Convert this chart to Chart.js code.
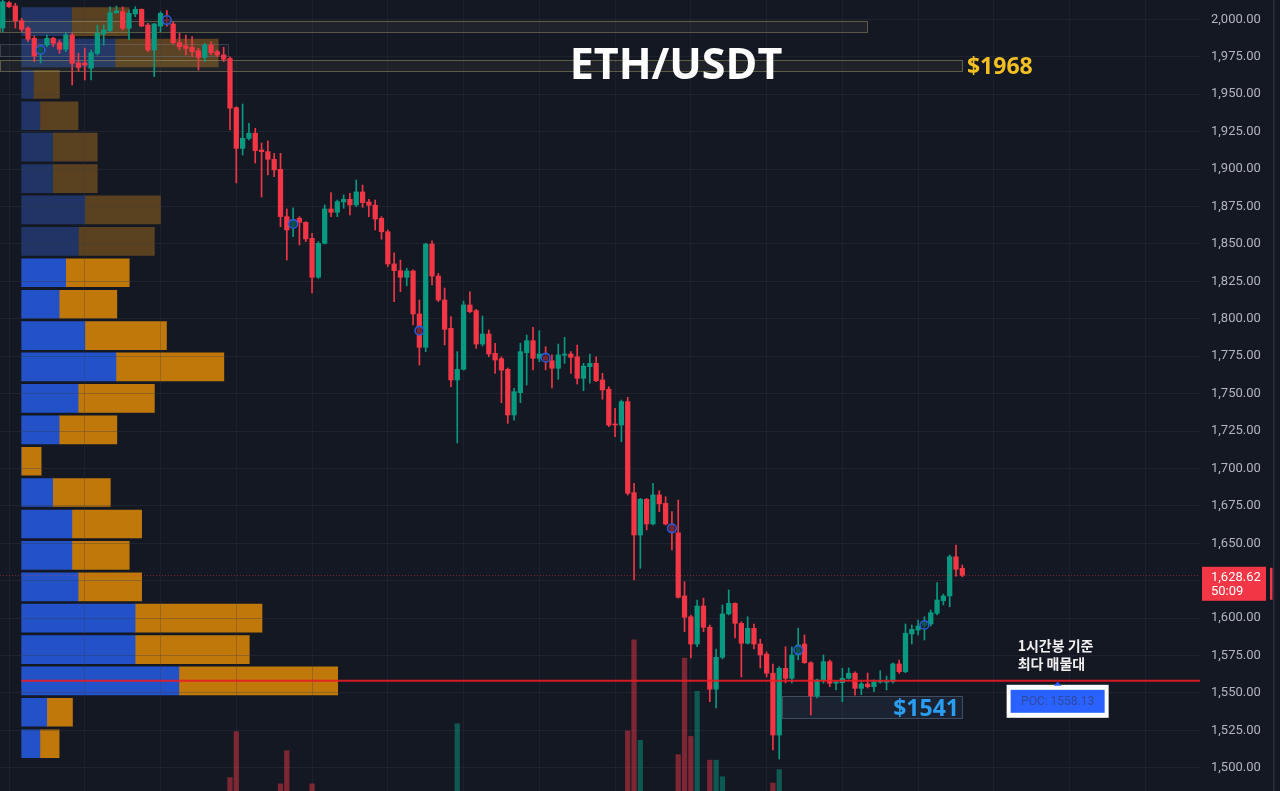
<!DOCTYPE html>
<html>
<head>
<meta charset="utf-8">
<title>ETH/USDT</title>
<script src="https://cdn.jsdelivr.net/npm/chart.js@4.4.0/dist/chart.umd.min.js"></script>
<style>
  html, body { margin: 0; padding: 0; background: #141823; }
  #wrap { position: relative; width: 1280px; height: 791px; overflow: hidden; }
  #wrap canvas { position: absolute; left: 0; top: 0; }
</style>
</head>
<body>
<div id="wrap">
  <canvas id="profileChart" width="1280" height="791"></canvas>
  <canvas id="priceChart" width="1280" height="791"></canvas>
</div>
<script>
// 1h candles, oldest first
const openP = [1994.2,2011.1,2008.9,1999.1,1994.2,1987.3,1977.3,1982.8,1987.3,1984.4,1980.0,1989.5,1971.0,1970.8,1967.3,1977.3,1990.2,1992.4,2004.4,2005.1,
  1994.0,2003.6,2006.7,1996.2,1979.5,1995.5,2000.0,1996.9,1984.4,1982.2,1981.3,1979.0,1974.6,1982.8,1978.4,1976.2,1973.9,1941.0,1913.8,1920.5,
  1923.9,1912.7,1911.6,1906.5,1899.8,1868.2,1861.5,1867.1,1864.4,1853.7,1827.7,1850.4,1873.3,1871.1,1878.0,1879.8,1876.0,1884.7,1878.0,1875.8,
  1867.1,1858.1,1836.6,1832.1,1827.7,1831.9,1803.2,1780.9,1849.9,1828.5,1812.5,1793.6,1759.1,1766.2,1809.2,1805.4,1783.1,1789.8,1776.9,1773.3,
  1766.2,1735.7,1750.6,1777.3,1785.3,1773.6,1775.1,1771.9,1766.9,1775.6,1776.4,1774.6,1760.2,1768.0,1770.2,1759.1,1752.9,1729.7,1729.0,1744.6,
  1683.8,1655.5,1679.4,1662.9,1682.3,1676.7,1662.2,1657.0,1614.8,1600.9,1582.7,1608.1,1593.9,1552.5,1573.8,1602.8,1609.9,1596.5,1583.2,1593.2,
  1582.7,1576.0,1563.2,1521.9,1566.5,1559.8,1575.4,1582.7,1570.2,1548.0,1558.7,1570.9,1556.5,1556.9,1559.8,1563.2,1553.1,1556.0,1554.2,1557.3,
  1557.1,1557.5,1569.4,1564.2,1589.4,1592.0,1594.7,1596.1,1603.2,1611.6,1614.8,1641.0,1633.3];
const highP = [2013.5,2011.8,2010.7,2000.7,1995.1,1988.9,1982.8,1989.5,1988.0,1986.2,1991.1,1990.7,1977.3,1980.8,1979.5,1996.2,1996.2,2008.4,2008.9,2008.4,
  2006.2,2008.4,2007.0,1997.3,1997.3,2005.1,2005.8,1998.4,1990.7,1989.5,1988.4,1980.6,1984.0,1985.0,1979.5,1981.3,1975.0,1941.6,1943.4,1930.5,
  1927.2,1917.4,1918.9,1910.5,1910.5,1873.3,1874.0,1868.2,1864.8,1857.1,1851.5,1876.0,1884.2,1879.3,1882.7,1883.8,1892.7,1889.3,1879.8,1879.3,
  1868.2,1859.3,1844.1,1839.2,1833.7,1832.6,1812.5,1850.4,1852.1,1830.3,1820.5,1801.4,1778.0,1811.8,1818.0,1806.3,1801.8,1792.5,1783.6,1774.6,
  1767.1,1753.5,1783.6,1789.1,1794.3,1792.0,1781.3,1775.8,1783.1,1787.6,1778.0,1782.4,1770.2,1776.4,1774.6,1763.5,1754.6,1740.2,1745.7,1747.5,
  1690.1,1680.0,1680.0,1690.1,1685.1,1681.1,1671.1,1678.9,1624.3,1602.1,1612.1,1613.4,1595.4,1579.4,1608.8,1618.8,1610.3,1597.6,1600.9,1596.1,
  1586.0,1577.4,1569.3,1567.6,1580.9,1580.9,1593.4,1588.7,1570.9,1559.3,1575.4,1572.0,1558.0,1566.5,1566.7,1564.2,1557.3,1563.3,1558.7,1564.9,
  1561.3,1570.2,1572.0,1596.1,1595.4,1598.7,1600.9,1605.4,1623.7,1616.1,1642.2,1648.8,1635.5];
const lowP = [1991.5,2008.0,1994.2,1991.7,1985.0,1971.7,1970.8,1981.7,1981.7,1977.3,1978.4,1956.1,1965.0,1959.5,1959.5,1976.2,1982.8,1991.7,2004.0,1992.9,
  1986.2,2001.7,1995.1,1978.4,1961.7,1991.7,1995.5,1983.5,1979.5,1976.2,1975.0,1966.2,1971.7,1976.2,1975.0,1971.7,1926.1,1890.7,1909.4,1919.4,
  1904.0,1881.3,1896.0,1894.9,1861.5,1839.2,1854.8,1849.3,1851.5,1817.2,1827.0,1849.9,1868.2,1868.2,1873.8,1869.3,1874.8,1874.4,1868.2,1859.3,
  1853.1,1834.8,1811.4,1818.1,1821.9,1795.8,1769.1,1778.0,1822.5,1811.4,1782.5,1754.6,1717.0,1765.7,1803.8,1780.2,1781.8,1774.6,1763.5,1743.9,
  1730.1,1732.3,1743.9,1755.7,1765.8,1771.3,1765.8,1753.7,1759.5,1770.2,1763.5,1756.4,1751.9,1756.9,1757.9,1746.2,1727.9,1721.2,1717.9,1682.2,
  1625.5,1633.3,1658.9,1662.2,1671.1,1662.2,1645.5,1613.4,1590.9,1573.4,1580.9,1590.9,1544.2,1540.0,1572.7,1602.1,1586.7,1560.7,1582.7,1579.4,
  1566.7,1560.7,1511.9,1505.9,1556.7,1556.7,1572.0,1569.8,1535.3,1546.7,1556.5,1554.2,1552.0,1544.2,1559.3,1548.6,1548.8,1553.3,1550.8,1556.5,
  1552.0,1556.5,1563.1,1563.5,1582.7,1588.7,1585.4,1594.7,1602.1,1608.8,1607.6,1628.1,1627.6];
const closeP = [2011.8,2008.4,1999.1,1993.3,1986.7,1975.5,1981.7,1987.3,1984.0,1980.0,1989.5,1970.6,1967.9,1969.5,1977.7,1990.7,1992.9,2004.4,2005.6,1994.0,
  2004.0,2006.7,1995.5,1979.5,1996.9,2004.0,1999.2,1984.4,1981.7,1980.6,1978.4,1974.6,1982.8,1977.7,1976.2,1973.3,1940.6,1913.8,1920.5,1923.9,
  1912.3,1911.6,1906.5,1899.4,1868.2,1859.3,1865.9,1864.4,1853.3,1827.7,1850.4,1873.3,1871.1,1878.2,1879.8,1876.0,1884.7,1877.5,1875.8,1866.6,
  1858.1,1836.6,1832.1,1827.7,1831.9,1803.2,1780.9,1849.9,1828.5,1812.5,1792.9,1759.1,1766.2,1809.2,1804.7,1783.1,1789.8,1776.4,1772.4,1765.7,
  1735.7,1751.3,1778.0,1785.3,1773.6,1776.4,1772.4,1766.9,1775.8,1776.4,1774.2,1760.2,1768.4,1770.2,1758.6,1752.4,1729.0,1729.0,1744.6,1683.4,
  1655.5,1679.4,1662.9,1682.3,1676.3,1662.9,1657.7,1613.9,1600.6,1582.7,1608.1,1593.9,1552.5,1573.8,1602.8,1609.9,1596.5,1583.2,1593.2,1582.7,
  1575.4,1563.2,1521.9,1566.5,1559.8,1575.4,1582.1,1570.2,1548.0,1558.7,1570.9,1556.5,1557.3,1559.8,1563.2,1553.1,1556.0,1554.2,1557.3,1557.5,
  1557.7,1569.4,1564.2,1589.9,1592.5,1594.7,1597.6,1603.6,1612.1,1614.8,1641.0,1632.6,1628.62];

// volume bars that reach into view (candle index, volume)
const volIdx = [36,37,44,45,49,72,99,100,101,107,108,109,110,112,113,114,122,123];
const volVal = [1.7,7.5,0.9,5.1,0.9,8.5,7.6,19.1,6.4,4.6,16.8,6.9,12.6,3.9,3.9,1.8,1.0,2.7];

// indicator dots every 20 bars
const markerIdx = [6,26,46,66,86,106,126,146];
const markerPrice = [1979.5,1999.5,1863.3,1792.0,1774.0,1660.0,1578.7,1595.4];

// volume profile rows (row centre price, up / down volume)
const rowPrice = [1998.5,1977.5,1956.6,1935.6,1914.6,1893.6,1872.7,1851.7,1830.7,1809.7,1788.7,1767.8,
  1746.8,1725.8,1704.8,1683.9,1662.9,1641.9,1620.9,1600.0,1579.0,1558.1,1537.1,1516.1];
const upVol = [16.2,30.2,3.9,6.0,10.1,10.1,20.5,18.4,14.3,12.2,20.5,30.5,18.3,12.2,0,10.1,16.3,16.3,18.3,36.7,36.7,50.8,8.2,6.0];
const downVol = [18.6,33.3,8.4,12.3,14.4,14.4,24.4,24.5,20.5,18.6,26.3,34.8,24.6,18.6,6.4,18.6,22.5,18.5,20.5,40.9,36.8,51.2,8.3,6.2];
const valueAreaTop = 1830.7;
const pocPrice = 1558.13;

// drawn zones
const zoneStart = [-0.5, -0.5, -0.5, 123.4];
const zoneEnd   = [137.0, 152.1, 35.7, 152.1];
const zoneHigh  = [1999.1, 1972.8, 1983.3, 1548.0];
const zoneLow   = [1991.3, 1965.0, 1974.6, 1532.6];

const priceTicks = [1500,1525,1550,1575,1600,1625,1650,1675,1700,1725,1750,1775,1800,1825,1850,1875,1900,1925,1950,1975,2000];
const gridIdx = [1,13,25,37,49,61,73,85,97,109,121,133,145,157,169,181];
const lastPrice = 1628.62;
const countdown = '50:09';

const priceMin = 1484.52, priceMax = 2012.91;
const xMin = -0.43, xMax = 189.65;

const UP = '#089981', DOWN = '#f23645';
const isUp = i => closeP[i] >= openP[i];
const fmt = v => v.toLocaleString('en-US', { minimumFractionDigits: 2, maximumFractionDigits: 2 });

Chart.defaults.font.family = 'Roboto, "Noto Sans", sans-serif';

// ---- volume profile (sits under the candles) ----
const profileChart = new Chart(document.getElementById('profileChart'), {
  type: 'bar',
  data: {
    datasets: [
      {
        data: rowPrice.map((p, k) => ({ x: upVol[k], y: p })),
        backgroundColor: ctx => rowPrice[ctx.dataIndex] > valueAreaTop ? '#203566' : '#2351c8',
        stack: 'vp', barThickness: 28
      },
      {
        data: rowPrice.map((p, k) => ({ x: downVol[k], y: p })),
        backgroundColor: ctx => rowPrice[ctx.dataIndex] > valueAreaTop ? '#5a4120' : '#c0780b',
        stack: 'vp', barThickness: 28
      }
    ]
  },
  options: {
    indexAxis: 'y',
    responsive: false, animation: false, events: [], devicePixelRatio: 1,
    layout: { padding: { left: 21.3, right: 80, top: 0, bottom: 0 }, autoPadding: false },
    plugins: { legend: { display: false }, tooltip: { enabled: false } },
    scales: {
      x: { type: 'linear', display: false, min: 0, max: 380, stacked: true },
      y: { type: 'linear', display: false, min: priceMin, max: priceMax, offset: false }
    }
  }
});

function zoneStyle(k) {
  if (k === 3) return ['rgba(70,95,130,0.16)', 'rgba(120,140,170,0.4)'];
  if (k === 2) return ['rgba(120,130,150,0.05)', 'rgba(150,155,170,0.28)'];
  return ['rgba(140,135,100,0.10)', 'rgba(170,165,110,0.45)'];
}

const overlay = {
  id: 'overlay',
  beforeDatasetsDraw(chart) {
    const { ctx, chartArea: a, scales: { x, y } } = chart;
    ctx.save();
    ctx.beginPath(); ctx.rect(a.left, a.top, a.right - a.left, a.bottom - a.top); ctx.clip();
    zoneStart.forEach((s, k) => {
      const x0 = x.getPixelForValue(s), x1 = x.getPixelForValue(zoneEnd[k]);
      const y0 = y.getPixelForValue(zoneHigh[k]), y1 = y.getPixelForValue(zoneLow[k]);
      const [fill, line] = zoneStyle(k);
      ctx.fillStyle = fill; ctx.fillRect(x0, y0, x1 - x0, y1 - y0);
      ctx.strokeStyle = line; ctx.lineWidth = 1;
      ctx.strokeRect(Math.round(x0) + 0.5, Math.round(y0) + 0.5, Math.round(x1 - x0) - 1, Math.round(y1 - y0) - 1);
    });
    ctx.restore();
  },
  afterDatasetsDraw(chart) {
    const { ctx, chartArea: a, scales: { y } } = chart;
    ctx.save();
    // last price dotted line
    const yl = Math.round(y.getPixelForValue(lastPrice)) + 0.5;
    ctx.strokeStyle = 'rgba(242,54,69,0.45)'; ctx.lineWidth = 1; ctx.setLineDash([1, 2]);
    ctx.beginPath(); ctx.moveTo(a.left, yl); ctx.lineTo(a.right, yl); ctx.stroke();
    ctx.setLineDash([]);
    // POC line, starting where the profile starts
    const yp = y.getPixelForValue(pocPrice);
    const px = profileChart.scales.x.getPixelForValue(0);
    ctx.strokeStyle = 'rgba(232,28,36,0.9)'; ctx.lineWidth = 2;
    ctx.beginPath(); ctx.moveTo(px, yp); ctx.lineTo(a.right, yp); ctx.stroke();
    ctx.restore();
  },
  afterDraw(chart) {
    const { ctx, chartArea: a, scales: { x, y } } = chart;
    ctx.save();
    ctx.textBaseline = 'alphabetic';

    // title
    ctx.fillStyle = '#ffffff';
    ctx.font = 'bold 43px "Open Sans", "Noto Sans", sans-serif';
    ctx.textAlign = 'center';
    ctx.fillText('ETH/USDT', 676, 79);

    // zone labels
    ctx.textBaseline = 'middle';
    ctx.font = 'bold 23px "Open Sans", "Noto Sans", sans-serif';
    ctx.textAlign = 'left';
    ctx.fillStyle = '#f4bf22';
    ctx.fillText('$1968', x.getPixelForValue(zoneEnd[1]) + 4, (y.getPixelForValue(zoneHigh[1]) + y.getPixelForValue(zoneLow[1])) / 2 + 2);
    ctx.textAlign = 'right';
    ctx.fillStyle = '#2a9ef2';
    ctx.fillText('$1541', x.getPixelForValue(zoneEnd[3]) - 4, (y.getPixelForValue(zoneHigh[3]) + y.getPixelForValue(zoneLow[3])) / 2 + 2);

    // POC label
    const yp = y.getPixelForValue(pocPrice);
    const cx = x.getPixelForValue(167.1);
    ctx.textAlign = 'left';
    ctx.textBaseline = 'alphabetic';
    ctx.fillStyle = '#f0f0f0';
    ctx.font = 'bold 14px "Noto Sans CJK KR", "Noto Sans", sans-serif';
    ctx.fillText('1시간봉 기준', cx - 40, yp - 30);
    ctx.fillText('최다 매물대', cx - 40, yp - 12);

    ctx.fillStyle = '#ffffff';
    ctx.fillRect(cx - 51, yp + 4, 102, 33);
    ctx.fillStyle = '#2962ff';
    ctx.fillRect(cx - 47, yp + 9, 94, 23);
    ctx.beginPath(); ctx.moveTo(cx, yp + 1); ctx.lineTo(cx - 4, yp + 5); ctx.lineTo(cx + 4, yp + 5); ctx.closePath(); ctx.fill();
    ctx.fillStyle = '#3048a0';
    ctx.font = '12px Roboto, sans-serif';
    ctx.textAlign = 'center'; ctx.textBaseline = 'middle';
    ctx.fillText('POC: ' + pocPrice.toFixed(2), cx, yp + 21);

    // last price tag on the axis
    const yl = y.getPixelForValue(lastPrice);
    ctx.fillStyle = DOWN;
    ctx.fillRect(a.right + 2, yl - 8.5, 64, 34);
    ctx.fillRect(a.right + 70, yl - 7.5, 2.5, 32);
    ctx.fillStyle = '#ffffff';
    ctx.font = '13px Roboto, sans-serif';
    ctx.textAlign = 'left';
    ctx.fillText(fmt(lastPrice), a.right + 11, yl + 2.5);
    ctx.fillText(countdown, a.right + 11, yl + 16.5);

    // right edge separator
    ctx.fillStyle = '#2a2e39';
    ctx.fillRect(a.right + 73, 0, 1.5, chart.height);
    ctx.restore();
  }
};

// ---- candles ----
const idx = openP.map((_, i) => i);
const candleColor = ctx => isUp(ctx.raw.x) ? UP : DOWN;

const priceChart = new Chart(document.getElementById('priceChart'), {
  type: 'bar',
  data: {
    datasets: [
      {
        type: 'scatter',
        data: markerIdx.map((m, k) => ({ x: m, y: markerPrice[k] })),
        pointRadius: 4.3, pointBorderWidth: 1.6,
        pointBorderColor: '#2b5bd9', pointBackgroundColor: 'rgba(20,24,35,0.55)',
        order: 0
      },
      {
        data: idx.map(i => ({ x: i, y: [openP[i], closeP[i]] })),
        backgroundColor: candleColor,
        barThickness: 4.6, grouped: false, minBarLength: 1, order: 1
      },
      {
        data: idx.map(i => ({ x: i, y: [lowP[i], highP[i]] })),
        backgroundColor: candleColor,
        barThickness: 1, grouped: false, order: 2
      },
      {
        data: volIdx.map((v, k) => ({ x: v, y: volVal[k] })),
        backgroundColor: ctx => isUp(ctx.raw.x) ? 'rgba(8,153,129,0.5)' : 'rgba(242,54,69,0.48)',
        yAxisID: 'yv', barThickness: 4.6, grouped: false, order: 3
      }
    ]
  },
  options: {
    responsive: false, animation: false, events: [], devicePixelRatio: 1,
    layout: { padding: 0, autoPadding: false },
    plugins: { legend: { display: false }, tooltip: { enabled: false } },
    scales: {
      x: {
        type: 'linear', min: xMin, max: xMax, offset: false,
        afterBuildTicks: s => { s.ticks = gridIdx.map(v => ({ value: v })); },
        afterFit: s => { s.height = 0; s.paddingLeft = 0; s.paddingRight = 0; },
        ticks: { display: false },
        grid: { color: 'rgba(54,58,72,0.28)', drawTicks: false, offset: false },
        border: { display: false }
      },
      y: {
        type: 'linear', position: 'right', min: priceMin, max: priceMax,
        afterBuildTicks: s => { s.ticks = priceTicks.map(v => ({ value: v })); },
        afterFit: s => { s.width = 80; s.paddingTop = 0; s.paddingBottom = 0; },
        ticks: { color: '#b2b5be', font: { size: 13 }, padding: 11, callback: v => fmt(v) },
        grid: { color: 'rgba(54,58,72,0.32)', drawTicks: false },
        border: { display: false }
      },
      yv: { type: 'linear', display: false, min: 0, max: 100 }
    }
  },
  plugins: [overlay]
});
</script>
</body>
</html>
